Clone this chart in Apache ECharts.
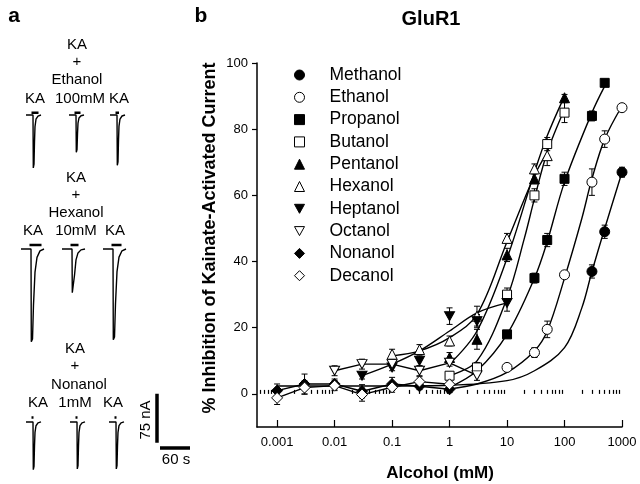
<!DOCTYPE html>
<html lang="en">
<head>
<meta charset="UTF-8">
<title>GluR1</title>
<script src="https://cdn.jsdelivr.net/npm/echarts@6/dist/echarts.min.js"></script>
<style>
  html, body { margin: 0; padding: 0; background: #fff; }
  #chart { width: 640px; height: 484px; }
</style>
</head>
<body>
<div id="chart"></div>
<script>
// ---- panel b data: % inhibition of kainate-activated current vs alcohol (mM) ----
const methanolConc = [300, 500, 1000];
const methanolInh = [37, 49, 67];
const methanolSem = [2, 2, 1.5];
const methanolFit = [[0.001, 2.4], [0.1, 2.4], [1, 2.6], [10, 4], [30, 7], [100, 14], [200, 26], [300, 37], [500, 50], [1000, 67]];

const ethanolConc = [10, 30, 50, 100, 300, 500, 1000];
const ethanolInh = [8, 12.5, 19.5, 36, 64, 77, 86.5];
const ethanolSem = [1, 1.5, 2.5, 1, 4, 2.5, 1];
const ethanolFit = [[1, 1.5], [3, 3], [10, 6.5], [30, 13], [50, 19], [100, 35], [200, 53], [300, 65], [500, 77], [1000, 87]];

const propanolConc = [10, 30, 50, 100, 300, 500];
const propanolInh = [18, 35, 46.5, 65, 84, 94];
const propanolSem = [1, 1.5, 2, 2, 1.5, 1];
const propanolFit = [[1, 2], [3, 7], [10, 18], [30, 35], [50, 46], [100, 64], [300, 85], [500, 93]];

const butanolConc = [1, 3, 10, 30, 50, 100];
const butanolInh = [5.5, 8, 30, 60, 75.5, 85];
const butanolSem = [1, 1.5, 2, 2, 2, 3];
const butanolFit = [[1, 5.5], [3, 10], [10, 29], [20, 47], [30, 59], [50, 73], [100, 86]];

const pentanolConc = [1, 3, 10, 30, 100];
const pentanolInh = [11, 16.5, 42, 65, 89.5];
const pentanolSem = [1.5, 3, 2, 1.5, 1];
const pentanolFit = [[1, 9], [3, 19], [10, 41], [30, 67], [50, 78], [100, 90]];

const hexanolConc = [0.1, 0.3, 1, 3, 10, 30, 50];
const hexanolInh = [12, 13.4, 16, 23.5, 47, 68, 72];
const hexanolSem = [1.5, 1.5, 1.5, 3, 1.5, 1.5, 3];
const hexanolFit = [[0.1, 11.5], [0.3, 13], [1, 17], [3, 24], [10, 46], [30, 66], [50, 73]];

const heptanolConc = [0.03, 0.1, 0.3, 1, 3, 10];
const heptanolInh = [5.5, 8, 10, 23.5, 22, 27.5];
const heptanolSem = [1, 1, 1.5, 2.5, 2, 2.5];
const heptanolFit = [[0.03, 5.5], [0.1, 9], [0.3, 13], [1, 19], [3, 24.5], [10, 27.5]];

const octanolConc = [0.01, 0.03, 0.1, 0.3, 1, 3];
const octanolInh = [7, 9, 9, 7, 9.4, 5.6];
const octanolSem = [1.5, 1.5, 1, 1.5, 1, 1.5];

const nonanolConc = [0.001, 0.003, 0.01, 0.03, 0.1, 0.3, 1];
const nonanolInh = [1, 3, 3, 0.8, 3, 2.3, 1.4];
const nonanolSem = [2, 3, 1.5, 2, 2, 1, 1];

const decanolConc = [0.001, 0.003, 0.01, 0.03, 0.1, 0.3, 1];
const decanolInh = [-1.2, 1.9, 2.5, -0.2, 2, 3.7, 2.9];
const decanolSem = [2, 2, 1.5, 2, 1.5, 1.5, 1.5];

const xDecades = [-3, -2, -1, 0, 1, 2, 3];        // log10 of tick labels 0.001 ... 1000
const yTicks = [0, 20, 40, 60, 80, 100];

// ---- panel a data: example current traces ----
const traceOnsets = [[66, 152, 234], [62, 144, 226], [66, 154, 232]];   // s
const tracePeaks = [[81, 57, 77], [142, 67, 139], [73, 72, 72]];          // nA
const barLengths = [[14, 12, 7], [24, 16, 20], [4, 4, 4]];                // s, drug application
const fastShape = [[-14, 0], [0, 0], [0.6, -1], [2, -0.93], [3, -0.5], [4, -0.22], [6, -0.08], [10, -0.02], [16, 0]];
const slowShape = [[-20, 0], [0, 0], [0.6, -1], [3, -0.97], [5, -0.6], [8, -0.25], [12, -0.09], [18, -0.02], [26, 0]];
const scaleCurrent = 75;  // nA
const scaleTime = 60;     // s

const FONT = '"Liberation Sans", Arial, sans-serif';
const DOWN_TRI = 'path://M0,0L20,0L10,18Z';

const alcohols = [
    { name: 'Methanol', conc: methanolConc, inh: methanolInh, sem: methanolSem, fit: methanolFit, symbol: 'circle', size: 10, fill: '#000' },
    { name: 'Ethanol', conc: ethanolConc, inh: ethanolInh, sem: ethanolSem, fit: ethanolFit, symbol: 'circle', size: 10, fill: '#fff' },
    { name: 'Propanol', conc: propanolConc, inh: propanolInh, sem: propanolSem, fit: propanolFit, symbol: 'rect', size: 9, fill: '#000' },
    { name: 'Butanol', conc: butanolConc, inh: butanolInh, sem: butanolSem, fit: butanolFit, symbol: 'rect', size: 9, fill: '#fff' },
    { name: 'Pentanol', conc: pentanolConc, inh: pentanolInh, sem: pentanolSem, fit: pentanolFit, symbol: 'triangle', size: 10, fill: '#000' },
    { name: 'Hexanol', conc: hexanolConc, inh: hexanolInh, sem: hexanolSem, fit: hexanolFit, symbol: 'triangle', size: 10, fill: '#fff' },
    { name: 'Heptanol', conc: heptanolConc, inh: heptanolInh, sem: heptanolSem, fit: heptanolFit, symbol: DOWN_TRI, size: [10, 9], fill: '#000' },
    { name: 'Octanol', conc: octanolConc, inh: octanolInh, sem: octanolSem, fit: null, symbol: DOWN_TRI, size: [10, 9], fill: '#fff' },
    { name: 'Nonanol', conc: nonanolConc, inh: nonanolInh, sem: nonanolSem, fit: null, symbol: 'diamond', size: 11, fill: '#000' },
    { name: 'Decanol', conc: decanolConc, inh: decanolInh, sem: decanolSem, fit: null, symbol: 'diamond', size: 11, fill: '#fff' }
];

// minor log ticks 2..9 of every decade
const xMin = -3.35, xMax = 3;
const minorTicks = [];
for (let d = -4; d < 3; d++) {
    for (let k = 2; k <= 9; k++) {
        const v = d + Math.log10(k);
        if (v >= xMin && v <= xMax) minorTicks.push(v);
    }
}

function fmtConc(v) {
    const c = Math.pow(10, v);
    return c < 1 ? c.toFixed(-Math.round(v)) : String(Math.round(c));
}

function errorBars(a) {
    return {
        type: 'custom',
        name: a.name + ' sem',
        xAxisIndex: 0,
        yAxisIndex: 0,
        silent: true,
        z: 1,
        encode: { x: 0, y: 1 },
        data: a.conc.map((c, i) => [Math.log10(c), a.inh[i], a.sem[i]]),
        renderItem: function (params, api) {
            const x = api.value(0), y = api.value(1), e = api.value(2);
            const hi = api.coord([x, y + e]);
            const lo = api.coord([x, y - e]);
            const w = 3;
            const st = { stroke: '#000', lineWidth: 1 };
            return {
                type: 'group',
                children: [
                    { type: 'line', shape: { x1: hi[0], y1: hi[1], x2: lo[0], y2: lo[1] }, style: st },
                    { type: 'line', shape: { x1: hi[0] - w, y1: hi[1], x2: hi[0] + w, y2: hi[1] }, style: st },
                    { type: 'line', shape: { x1: lo[0] - w, y1: lo[1], x2: lo[0] + w, y2: lo[1] }, style: st }
                ]
            };
        }
    };
}

let series = [];
alcohols.forEach(a => {
    const linePts = a.fit ? a.fit : a.conc.map((c, i) => [c, a.inh[i]]);
    series.push({
        type: 'line',
        name: a.name + ' fit',
        xAxisIndex: 0,
        yAxisIndex: 0,
        data: linePts.map(p => [Math.log10(p[0]), p[1]]),
        smooth: a.fit ? 0.35 : false,
        showSymbol: false,
        silent: true,
        z: 2,
        lineStyle: { color: '#000', width: 1.4 }
    });
    series.push(errorBars(a));
    series.push({
        type: 'scatter',
        name: a.name,
        xAxisIndex: 0,
        yAxisIndex: 0,
        data: a.conc.map((c, i) => [Math.log10(c), a.inh[i]]),
        symbol: a.symbol,
        symbolSize: a.size,
        z: 3,
        itemStyle: { color: a.fill, borderColor: '#000', borderWidth: 1, opacity: 1 }
    });
});

// ---- panel a traces, one grid per row ----
const rowGrids = [
    { top: 105.2, height: 75.1, min: -100, max: 15, shape: fastShape, barY: 3.5 },
    { top: 239.2, height: 107.7, min: -150, max: 15, shape: slowShape, barY: 6 },
    { top: 389.3, height: 84.9, min: -80, max: 50, shape: fastShape, barY: 7 }
];
const grids = [{ left: 257, right: 18, top: 63, bottom: 57 }];
const xAxes = [
    {
        type: 'value', gridIndex: 0, min: xMin, max: xMax, position: 'bottom',
        axisLine: { show: true, onZero: false, lineStyle: { color: '#000', width: 1.5 } },
        axisTick: { show: true, inside: true, length: 7, customValues: xDecades, lineStyle: { color: '#000', width: 1.2 } },
        axisLabel: { show: true, customValues: xDecades, formatter: fmtConc, margin: 9, color: '#000', fontFamily: FONT, fontSize: 13 },
        splitLine: { show: false }
    },
    {
        type: 'value', gridIndex: 0, min: xMin, max: xMax, position: 'bottom',
        axisLine: { show: false },
        axisTick: { show: true, inside: true, length: 4, customValues: minorTicks, lineStyle: { color: '#000', width: 1.2 } },
        axisLabel: { show: false },
        splitLine: { show: false }
    }
];
const yAxes = [
    {
        type: 'value', gridIndex: 0, min: -10, max: 100,
        axisLine: { show: true, onZero: false, lineStyle: { color: '#000', width: 1.5 } },
        axisTick: { show: true, length: 5, customValues: yTicks, lineStyle: { color: '#000', width: 1.2 } },
        axisLabel: { show: true, customValues: yTicks, margin: 9, color: '#000', fontFamily: FONT, fontSize: 13 },
        splitLine: { show: false }
    }
];

rowGrids.forEach((g, r) => {
    grids.push({ left: 0, width: 200, top: g.top, height: g.height });
    const gi = grids.length - 1;
    xAxes.push({ type: 'value', gridIndex: gi, min: 0, max: 400, show: false, splitLine: { show: false } });
    yAxes.push({ type: 'value', gridIndex: gi, min: g.min, max: g.max, show: false, splitLine: { show: false } });
    const xi = xAxes.length - 1, yi = yAxes.length - 1;
    g.xi = xi; g.yi = yi;
    traceOnsets[r].forEach((t0, j) => {
        series.push({
            type: 'line', xAxisIndex: xi, yAxisIndex: yi, silent: true, showSymbol: false,
            data: g.shape.map(p => [t0 + p[0], p[1] * tracePeaks[r][j]]),
            lineStyle: { color: '#000', width: 1.4 }
        });
        series.push({
            type: 'line', xAxisIndex: xi, yAxisIndex: yi, silent: true, showSymbol: false,
            data: [[t0 - 3, g.barY], [t0 - 3 + barLengths[r][j], g.barY]],
            lineStyle: { color: '#000', width: 2.5 }
        });
    });
});

// scale bars in the last row grid
const lastRow = rowGrids[2];
series.push({
    type: 'line', xAxisIndex: lastRow.xi, yAxisIndex: lastRow.yi, silent: true, showSymbol: false,
    data: [[314, 43], [314, 43 - scaleCurrent]],
    lineStyle: { color: '#000', width: 3.5, cap: 'butt' }
});
series.push({
    type: 'line', xAxisIndex: lastRow.xi, yAxisIndex: lastRow.yi, silent: true, showSymbol: false,
    data: [[320, -40], [320 + scaleTime, -40]],
    lineStyle: { color: '#000', width: 3.5, cap: 'butt' }
});

function txt(t, x, y, size, opts) {
    return Object.assign({
        type: 'text', x: x, y: y, silent: true,
        style: {
            text: t, fill: '#000', font: (opts && opts.bold ? 'bold ' : '') + size + 'px ' + FONT,
            align: 'center', verticalAlign: 'middle'
        }
    }, opts && opts.rotation ? { rotation: opts.rotation } : {});
}

const graphics = [
    txt('a', 14, 16, 21, { bold: true }),
    txt('b', 201, 16, 21, { bold: true }),
    txt('GluR1', 431, 19, 20, { bold: true }),
    txt('Alcohol (mM)', 440, 473, 17, { bold: true }),
    txt('% Inhibition of Kainate-Activated Current', 210, 238, 18, { bold: true, rotation: Math.PI / 2 }),
    txt('KA', 77, 45, 15), txt('+', 77, 62, 15), txt('Ethanol', 77, 80, 15),
    txt('KA', 35, 99, 15), txt('100mM', 80, 99, 15), txt('KA', 119, 99, 15),
    txt('KA', 76, 178, 15), txt('+', 76, 195, 15), txt('Hexanol', 76, 213, 15),
    txt('KA', 33, 231, 15), txt('10mM', 76, 231, 15), txt('KA', 115, 231, 15),
    txt('KA', 75, 349, 15), txt('+', 75, 366, 15), txt('Nonanol', 79, 385, 15),
    txt('KA', 38, 403, 15), txt('1mM', 75, 403, 15), txt('KA', 113, 403, 15),
    txt('75 nA', 146, 420, 15, { rotation: Math.PI / 2 }),
    txt('60 s', 176, 460, 15)
];

const chart = echarts.init(document.getElementById('chart'), null, { width: 640, height: 484, renderer: 'canvas' });
chart.setOption({
    animation: false,
    backgroundColor: '#fff',
    textStyle: { fontFamily: FONT },
    grid: grids,
    xAxis: xAxes,
    yAxis: yAxes,
    legend: {
        data: alcohols.map(a => a.name),
        orient: 'vertical',
        left: 289,
        top: 61,
        itemWidth: 10,
        itemHeight: 10,
        itemGap: 4.3,
        selectedMode: false,
        itemStyle: { borderWidth: 1 },
        textStyle: { color: '#000', fontFamily: FONT, fontSize: 17.5, lineHeight: 18, padding: [0, 0, 0, 20] }
    },
    series: series,
    graphic: graphics
});
</script>
</body>
</html>
